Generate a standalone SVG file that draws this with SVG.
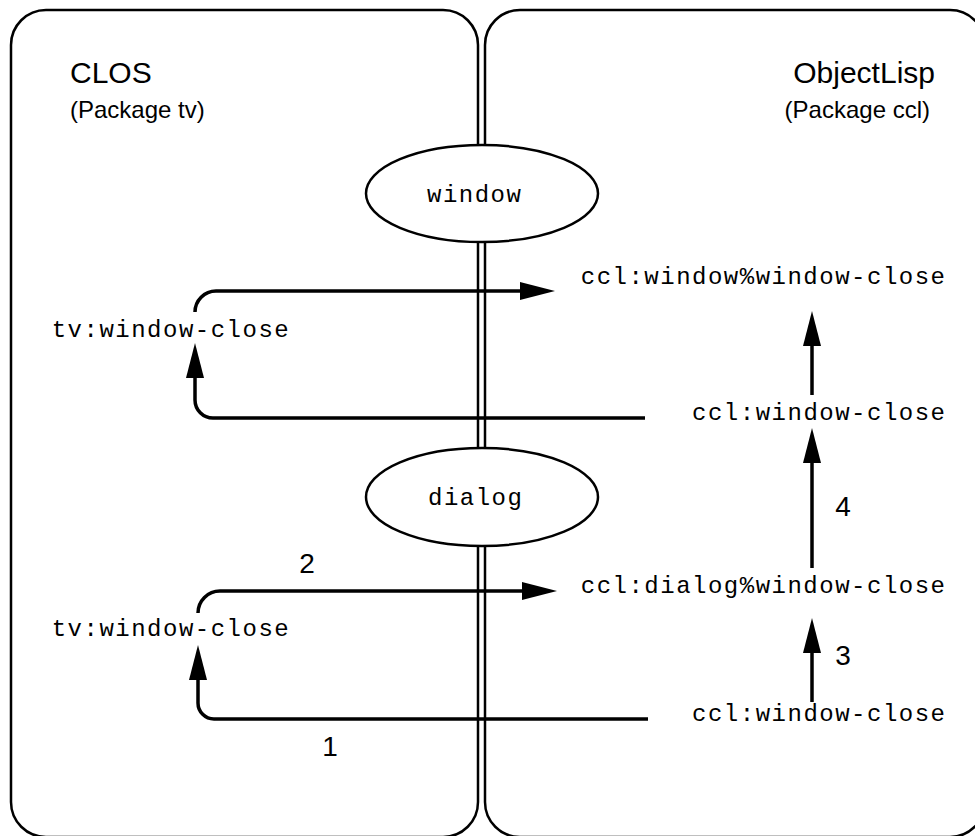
<svg xmlns="http://www.w3.org/2000/svg" width="975" height="836" viewBox="0 0 975 836">
<style>
.box{fill:none;stroke:#000;stroke-width:2.5}
.ell{fill:#fff;stroke:#000;stroke-width:2.5}
.con{fill:none;stroke:#000;stroke-width:3.5}
.mono{font-family:"Liberation Mono","Courier New",monospace;font-size:24px;letter-spacing:1.5px;fill:#000}
.sans{font-family:"Liberation Sans",Arial,sans-serif;fill:#000}
.title{font-size:30px}
.sub{font-size:24px}
.num{font-size:28px;text-anchor:middle}
</style>
<defs>
<marker id="ah" viewBox="0 -9 35 18" refX="0" refY="0" markerWidth="35" markerHeight="18" markerUnits="userSpaceOnUse" orient="auto">
<path d="M0,-9 L35,0 L0,9 z" fill="#000"/>
</marker>
</defs>
<rect width="975" height="836" fill="#fff"/>
<g id="clos-package">
<rect class="box" x="11" y="10" width="467" height="827" rx="35" ry="35"/>
<text class="sans title" x="70" y="83">CLOS</text>
<text class="sans sub" x="70" y="118">(Package tv)</text>
</g>
<g id="objectlisp-package">
<rect class="box" x="485" y="10" width="500" height="827" rx="35" ry="35"/>
<text class="sans title" x="935" y="83" text-anchor="end">ObjectLisp</text>
<text class="sans sub" x="930" y="118" text-anchor="end">(Package ccl)</text>
</g>
<g id="window-class">
<ellipse class="ell" cx="482" cy="193.5" rx="116" ry="48.5"/>
<text class="mono" x="427" y="202">window</text>
</g>
<g id="dialog-class">
<ellipse class="ell" cx="482" cy="497" rx="116" ry="49"/>
<text class="mono" x="428" y="505">dialog</text>
</g>
<g id="tv-window-close-1"><text class="mono" x="51.7" y="337">tv:window-close</text></g>
<g id="ccl-window-pct-window-close"><text class="mono" x="946.5" y="284" text-anchor="end">ccl:window%window-close</text></g>
<g id="ccl-window-close-1"><text class="mono" x="946.5" y="420" text-anchor="end">ccl:window-close</text></g>
<g id="tv-window-close-2"><text class="mono" x="51.7" y="636">tv:window-close</text></g>
<g id="ccl-dialog-pct-window-close"><text class="mono" x="946.5" y="593" text-anchor="end">ccl:dialog%window-close</text></g>
<g id="ccl-window-close-2"><text class="mono" x="946.5" y="721" text-anchor="end">ccl:window-close</text></g>
<g id="connectors">
<path class="con" d="M195,312 A21,21 0 0 1 216,291 H520" marker-end="url(#ah)"/>
<path class="con" d="M645,418 H213 A18,18 0 0 1 195,400 V378" marker-end="url(#ah)"/>
<path class="con" d="M812,395 V346" marker-end="url(#ah)"/>
<path class="con" d="M198,613 A22,22 0 0 1 220,591 H522" marker-end="url(#ah)"/>
<path class="con" d="M648,719 H214 A16,16 0 0 1 198,703 V680" marker-end="url(#ah)"/>
<path class="con" d="M812,702 V653" marker-end="url(#ah)"/>
<path class="con" d="M812,568 V463" marker-end="url(#ah)"/>
<text class="sans num" x="330" y="756">1</text>
<text class="sans num" x="307" y="573">2</text>
<text class="sans num" x="843" y="665">3</text>
<text class="sans num" x="843" y="516">4</text>
</g>
</svg>
